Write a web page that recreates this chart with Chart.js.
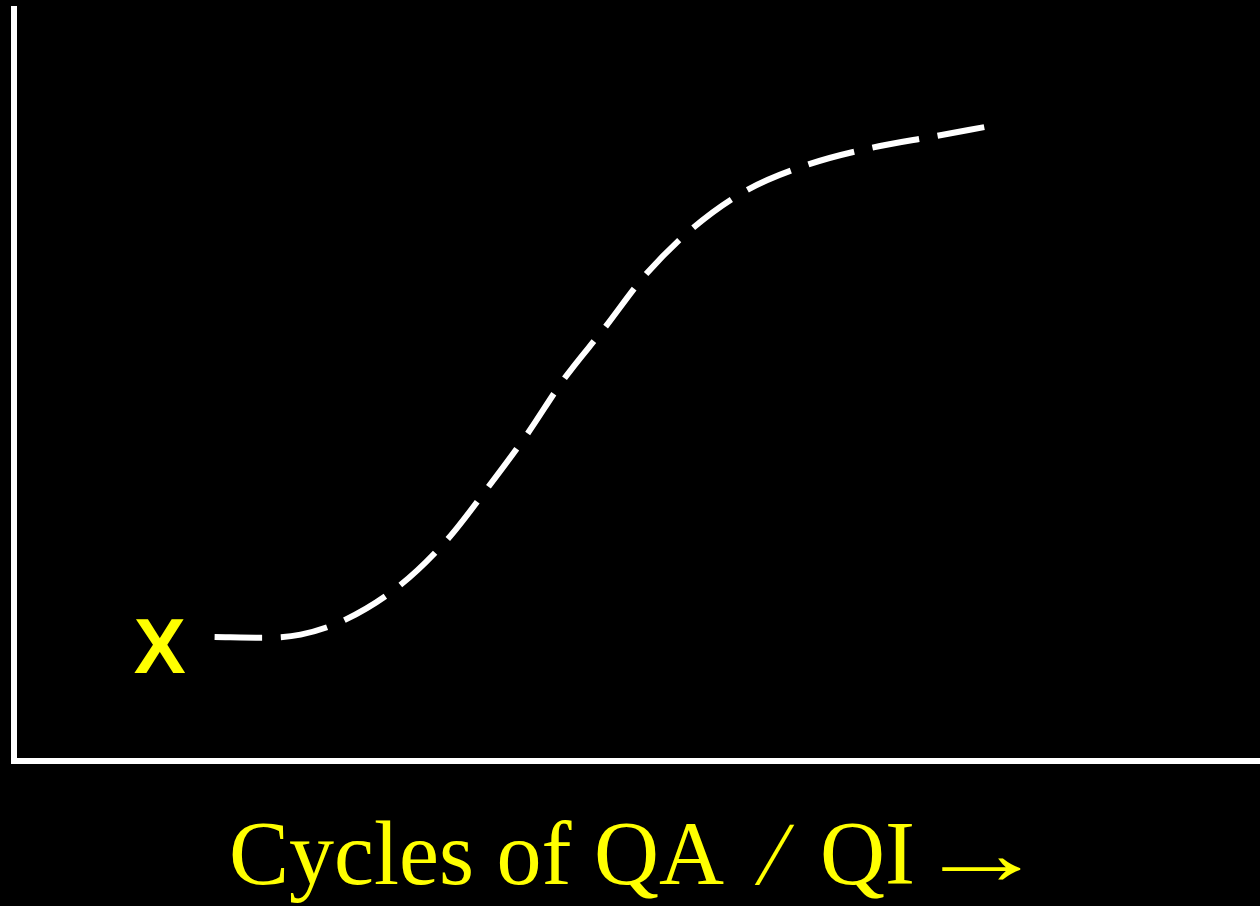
<!DOCTYPE html>
<html>
<head>
<meta charset="utf-8">
<script src="https://cdn.jsdelivr.net/npm/chart.js@4/dist/chart.umd.min.js"></script>
<style>
  html, body { margin: 0; padding: 0; background: #000; }
  #wrap { width: 1260px; height: 906px; position: relative; }
</style>
</head>
<body>
<div id="wrap"><canvas id="c" width="1260" height="906"></canvas></div>
<script>
// Curve (abstract units: cycles on x, level on y)
const curveX = [1.61, 1.99, 2.30, 2.66, 3.10, 3.48, 3.80, 4.12, 4.41, 4.74, 5.06, 5.45, 5.88, 6.37, 6.87, 7.40, 7.79];
const curveY = [1.65, 1.64, 1.68, 1.88, 2.34, 2.95, 3.63, 4.35, 5.07, 5.76, 6.45, 7.09, 7.59, 7.93, 8.15, 8.31, 8.43];
// Start marker
const markerText = ['X'];
const markerX = [1.17];
const markerY = [1.17];
// Axis title pieces: "Cycles of QA / QI →"
const xTitleParts = ['Cycles of QA', '/', 'QI', '\u2192'];

const YELLOW = '#ffff00';

const markerPlugin = {
  id: 'markerPlugin',
  afterDatasetsDraw(chart) {
    const { ctx, scales } = chart;
    ctx.save();
    ctx.fillStyle = YELLOW;
    ctx.font = 'bold 78px "Liberation Sans", Arial, sans-serif';
    ctx.textAlign = 'center';
    ctx.textBaseline = 'alphabetic';
    markerText.forEach((t, i) => {
      ctx.fillText(t, scales.x.getPixelForValue(markerX[i]), scales.y.getPixelForValue(markerY[i]));
    });
    ctx.restore();
  }
};

const axisTitlePlugin = {
  id: 'axisTitlePlugin',
  afterDraw(chart) {
    const { ctx, chartArea } = chart;
    const cx = (chartArea.left + chartArea.right) / 2;
    const baseY = chartArea.bottom + 123;
    ctx.save();
    ctx.fillStyle = YELLOW;
    ctx.font = '90px "Liberation Serif", "Times New Roman", serif';
    ctx.textBaseline = 'alphabetic';
    ctx.textAlign = 'left';
    const [p1, slash, p3, arrow] = xTitleParts;
    // main words, ink-aligned
    let m = ctx.measureText(p1);
    ctx.fillText(p1, cx - 405 + m.actualBoundingBoxLeft, baseY);
    // slash, slightly more slanted
    m = ctx.measureText(slash);
    ctx.save();
    ctx.transform(1, 0, -0.24, 1, cx + 118 + m.actualBoundingBoxLeft, baseY);
    ctx.fillText(slash, 0, 0);
    ctx.restore();
    m = ctx.measureText(p3);
    ctx.fillText(p3, cx + 186 + m.actualBoundingBoxLeft, baseY);
    // long arrow
    m = ctx.measureText(arrow);
    const inkW = m.actualBoundingBoxLeft + m.actualBoundingBoxRight;
    const s = 79 / inkW;
    ctx.translate(cx + 305, baseY);
    ctx.scale(s, 1);
    ctx.fillText(arrow, m.actualBoundingBoxLeft, 0);
    ctx.restore();
  }
};

new Chart(document.getElementById('c'), {
  type: 'line',
  data: {
    datasets: [{
      data: curveX.map((x, i) => ({ x, y: curveY[i] })),
      borderColor: '#ffffff',
      borderWidth: 6,
      borderDash: [47.5, 18.7],
      borderCapStyle: 'butt',
      pointRadius: 0,
      tension: 0.4,
      cubicInterpolationMode: 'monotone',
      fill: false
    }]
  },
  options: {
    responsive: false,
    animation: false,
    layout: { padding: { top: 9, left: 0, right: 0, bottom: 145 } },
    plugins: {
      legend: { display: false },
      tooltip: { enabled: false },
      title: { display: false }
    },
    scales: {
      x: {
        type: 'linear',
        min: 0,
        max: 10,
        ticks: { display: false },
        grid: { display: false, drawTicks: false },
        border: { display: true, color: '#ffffff', width: 6 }
      },
      y: {
        type: 'linear',
        min: 0,
        max: 10,
        ticks: { display: false },
        grid: { display: false, drawTicks: true, tickLength: 14 },
        border: { display: true, color: '#ffffff', width: 6 }
      }
    }
  },
  plugins: [markerPlugin, axisTitlePlugin]
});
</script>
</body>
</html>
